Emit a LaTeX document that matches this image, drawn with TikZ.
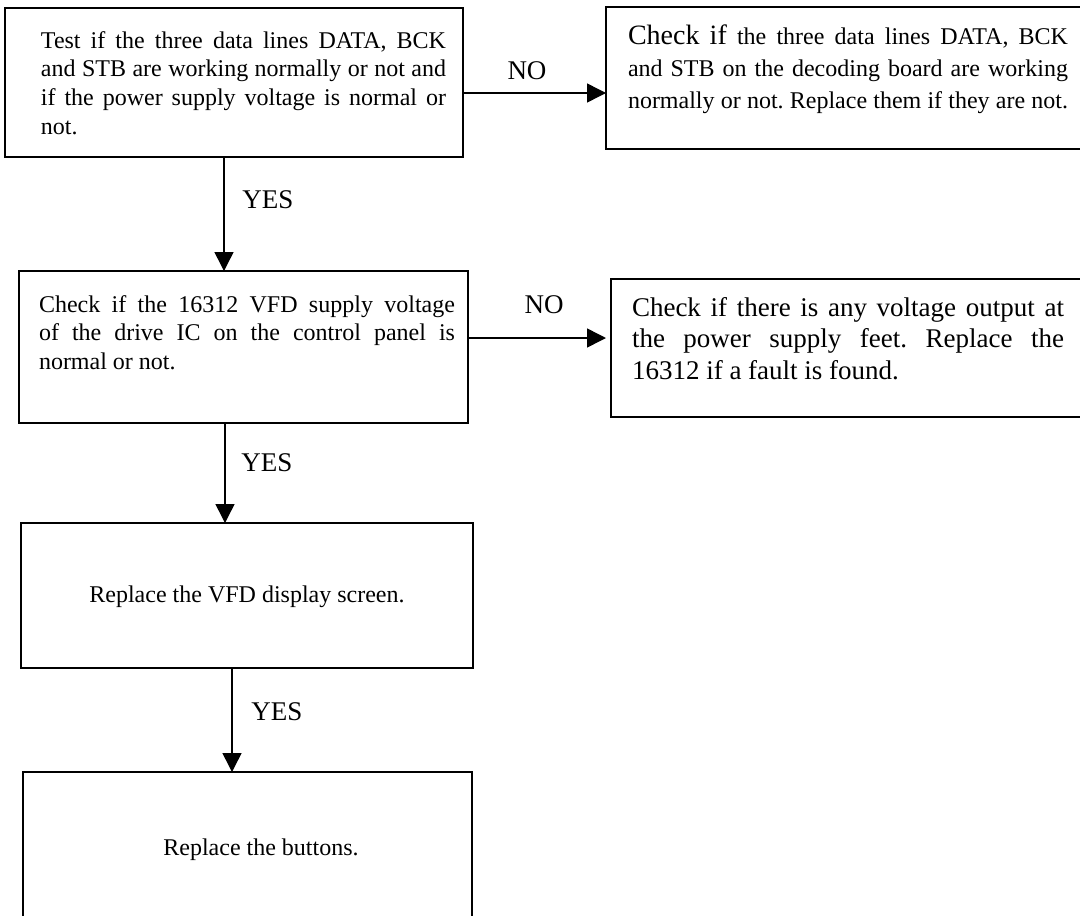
\documentclass[tikz,border=0pt]{standalone}
\usepackage{fontspec}
\setmainfont{Liberation Serif}
\usetikzlibrary{arrows.meta}
\newcommand\fsz[2]{\fontsize{#1}{#2}\selectfont\spaceskip=0.25em plus 0.6em minus 0.1em\relax\xspaceskip=\spaceskip}
\frenchspacing
\begin{document}
\begin{tikzpicture}[x=1pt,y=-1pt,
  box/.style={draw,line width=1.7pt,rectangle,inner sep=0pt,outer sep=0pt,anchor=north west},
  arr/.style={line width=1.5pt,-{Triangle[length=19pt,width=19pt]}},
  lbl/.style={font=\fsz{27}{30},inner sep=0pt,anchor=center},
  txt/.style={inner sep=0pt,outer sep=0pt,anchor=base west,align=left},
  ctxt/.style={font=\fsz{24}{28},inner sep=0pt,anchor=center}]
\useasboundingbox (0,0) rectangle (1080,916);
\clip (0,0) rectangle (1080,916);
\fill[white] (0,0) rectangle (1080,916);

% boxes
\node[box,minimum width=458pt,minimum height=149pt] (b1) at (5,8) {};
\node[box,minimum width=490pt,minimum height=142pt] (b2) at (606,7) {};
\node[box,minimum width=449pt,minimum height=152pt] (b3) at (19,271) {};
\node[box,minimum width=480pt,minimum height=138pt] (b4) at (611,279) {};
\node[box,minimum width=452pt,minimum height=145pt] (b5) at (21,523) {};
\node[box,minimum width=449pt,minimum height=170pt] (b6) at (23,772) {};

% texts
\node[txt,text width=405pt,font=\fsz{24}{28.7}] (t1) at (41,48)
 {\fsz{24}{28.7}\noindent\makebox[405pt][s]{Test if the three data lines DATA, BCK}\\
  \makebox[405pt][s]{and STB are working normally or not and}\\
  \makebox[405pt][s]{if the power supply voltage is normal or}\\
  not.\par};
\node[txt,text width=440pt,font=\fsz{24}{32}] (t2) at (628,44)
 {\fsz{24}{32}\noindent\makebox[440pt][s]{{\fontsize{28}{32}\selectfont Check if} the three data lines DATA, BCK}\\
  \makebox[440pt][s]{and STB on the decoding board are working}\\
  \makebox[440pt][s]{normally or not. Replace them if they are not.}\par};
\node[txt,text width=416pt,font=\fsz{24}{28.5}] (t3) at (39,312)
 {\fsz{24}{28.5}\noindent\makebox[416pt][s]{Check if the 16312 VFD supply voltage}\\
  \makebox[416pt][s]{of the drive IC on the control panel is}\\
  normal or not.\par};
\node[txt,text width=432pt,font=\fsz{27}{31.5}] (t4) at (632,316)
 {\fsz{27}{31.5}\noindent\makebox[432pt][s]{Check if there is any voltage output at}\\
  \makebox[432pt][s]{the power supply feet. Replace the}\\
  16312 if a fault is found.\par};
\node[ctxt] (t5) at (247,597) {Replace the VFD display screen.};
\node[ctxt] (t6) at (261,850) {Replace the buttons.};

% connectors
\coordinate (c1) at (0,93);
\coordinate (c2) at (0,338);
\coordinate (v1) at (224,0);
\coordinate (v2) at (225,0);
\coordinate (v3) at (232,0);
\draw[arr] (b1.east |- c1) -- (b2.west |- c1);
\draw[arr,shorten >=5pt] (b3.east |- c2) -- (b4.west |- c2);
\draw[arr] (b1.south -| v1) -- (b3.north -| v1);
\draw[arr] (b3.south -| v2) -- (b5.north -| v2);
\draw[arr] (b5.south -| v3) -- (b6.north -| v3);

% labels
\node[lbl] (l1) at (527,71) {NO};
\node[lbl] (l2) at (544,305) {NO};
\node[lbl] (l3) at (268,200) {YES};
\node[lbl] (l4) at (267,463) {YES};
\node[lbl] (l5) at (277,712) {YES};
\end{tikzpicture}
\end{document}
